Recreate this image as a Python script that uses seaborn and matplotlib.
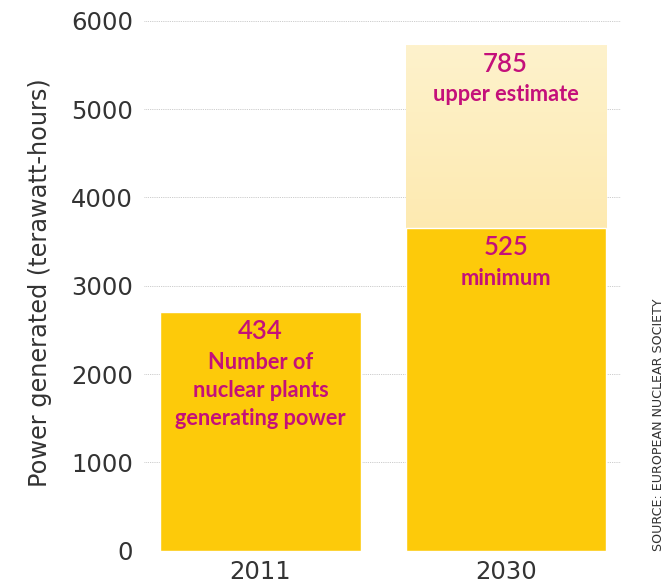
import numpy as np
import pandas as pd
import matplotlib.pyplot as plt
import seaborn as sns

# values
years = ["2011", "2030"]
minimum_twh = [2700, 3650]          # power generated, minimum scenario
upper_years = ["2030"]
upper_twh = [5725]                  # upper estimate for 2030
plant_counts = ["434", "525", "785"]
plant_captions = [
    ["Number of", "nuclear plants", "generating power"],
    ["minimum"],
    ["upper estimate"],
]
y_ticks = [0, 1000, 2000, 3000, 4000, 5000, 6000]

BAR = "#fdca0a"
PINK = "#c4107a"
GREY = "#333333"

sns.set_theme(style="white")
plt.rcParams["font.family"] = ["DejaVu Sans"]

fig = plt.figure(figsize=(6.71, 5.86), dpi=100)
ax = fig.add_axes([0.2146, 0.0602, 0.7109, 0.9045])

# upper estimate bar first (gets a gradient fill afterwards)
sns.barplot(x=upper_years, y=upper_twh, order=years, color=BAR,
            saturation=1, width=0.816, ax=ax, zorder=2)
upper_patch = ax.patches[0]
bb = upper_patch.get_bbox()
grad = np.linspace(0, 1, 256).reshape(-1, 1)
cmap = sns.blend_palette(["#fddb80", "#fef2cc"], as_cmap=True)
im = ax.imshow(grad, extent=[bb.x0, bb.x1, bb.y0, bb.y1], origin="lower",
               aspect="auto", cmap=cmap, zorder=2.5)
im.set_clip_path(upper_patch)
upper_patch.set_facecolor("none")

# minimum bars on top
sns.barplot(x=years, y=minimum_twh, order=years, color=BAR,
            saturation=1, width=0.816, ax=ax, zorder=3)

ax.set_xlim(-0.475, 1.47)
ax.set_ylim(0, 6000)
ax.set_yticks(y_ticks)
ax.set_xlabel("")
ax.set_ylabel("")
for s in ax.spines.values():
    s.set_visible(False)
ax.grid(axis="y", color="#bbbbbb", linestyle=(0, (1, 1.2)), linewidth=0.6,
        zorder=0)
ax.set_axisbelow(True)
ax.tick_params(axis="y", length=0, pad=8, labelsize=17.5, labelcolor=GREY)
ax.tick_params(axis="x", length=0, pad=7, labelsize=17.5, labelcolor=GREY)

# labels inside the bars
label_pos = [(0, minimum_twh[0]), (1, minimum_twh[1]), (1, upper_twh[0])]
for (xi, top), num, cap in zip(label_pos, plant_counts, plant_captions):
    ax.annotate(num, xy=(xi, top), xytext=(0, -14), textcoords="offset points",
                ha="center", va="center", fontsize=18.5, color=PINK,
                family=["Lato", "DejaVu Sans"], fontweight="semibold", zorder=5)
    for k, line in enumerate(cap):
        ax.annotate(line, xy=(xi, top), xytext=(0, -36 - 20.2 * k),
                    textcoords="offset points", ha="center", va="center",
                    fontsize=15.7, color=PINK, family=["Lato", "DejaVu Sans"],
                    fontweight="bold", zorder=5)

fig.text(40 / 671, 1 - 283 / 586, "Power generated (terawatt-hours)",
         rotation=90, ha="center", va="center", fontsize=17.3, color=GREY)
fig.text(658 / 671, 1 - 425 / 586, "SOURCE: EUROPEAN NUCLEAR SOCIETY",
         rotation=90, ha="center", va="center", fontsize=9.1, color=GREY,
         family=["Liberation Sans Narrow", "DejaVu Sans"])

fig.savefig("out.png", dpi=100)
